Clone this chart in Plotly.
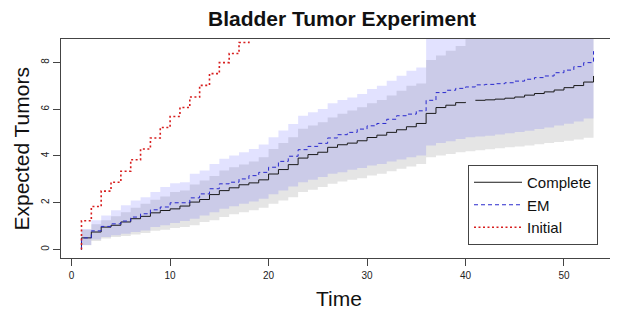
import plotly.graph_objects as go

times = list(range(1, 54))

complete = [0.50, 0.75, 0.96, 1.04, 1.18, 1.32, 1.42, 1.57, 1.67, 1.74, 1.86, 2.03, 2.14, 2.35,
            2.52, 2.64, 2.77, 2.85, 2.98, 3.23, 3.42, 3.63, 3.91, 4.06, 4.16, 4.37, 4.48, 4.55,
            4.65, 4.79, 4.89, 5.01, 5.12, 5.25, 5.39, 5.82, 6.07, 6.17, 6.28, 6.31, 6.38, 6.40,
            6.43, 6.47, 6.52, 6.60, 6.67, 6.74, 6.82, 6.92, 7.01, 7.16, 7.42]
complete_gap_after = 40

em = [0.50, 0.80, 0.99, 1.10, 1.22, 1.39, 1.53, 1.70, 1.82, 2.00, 2.00, 2.21, 2.38, 2.60,
      2.81, 2.88, 3.02, 3.16, 3.30, 3.52, 3.77, 3.99, 4.27, 4.41, 4.54, 4.77, 4.91, 5.01,
      5.15, 5.29, 5.39, 5.57, 5.72, 5.79, 5.93, 6.38, 6.71, 6.81, 6.89, 6.95, 7.04, 7.06,
      7.09, 7.13, 7.20, 7.28, 7.35, 7.42, 7.56, 7.67, 7.82, 7.99, 8.48]

initial_times = list(range(1, 19))
initial = [1.23, 1.84, 2.50, 2.88, 3.35, 3.84, 4.30, 4.77, 5.22, 5.69, 6.07, 6.52, 7.02,
           7.52, 7.99, 8.38, 8.85, 9.30]

em_upper = [0.88, 1.25, 1.46, 1.68, 1.89, 2.10, 2.24, 2.46, 2.67, 2.84, 2.88, 3.24, 3.38,
            3.66, 3.88, 4.02, 4.16, 4.30, 4.49, 4.80, 5.09, 5.37, 5.72, 5.87, 6.01, 6.25,
            6.39, 6.50, 6.65, 6.86, 7.00, 7.22, 7.43, 7.64, 7.78, 9.6, 9.8, 9.9, 10.0, 10.1,
            10.2, 10.3, 10.35, 10.4, 10.5, 10.6, 10.7, 10.8, 10.9, 11.0, 11.1, 11.2, 11.3]
em_lower = [0.20, 0.43, 0.54, 0.61, 0.68, 0.75, 0.82, 0.97, 1.04, 1.14, 1.22, 1.32, 1.46,
            1.60, 1.75, 1.85, 1.96, 2.06, 2.17, 2.36, 2.53, 2.70, 2.88, 2.98, 3.10, 3.24,
            3.31, 3.41, 3.49, 3.59, 3.66, 3.76, 3.85, 3.95, 4.02, 4.45, 4.55, 4.63, 4.73,
            4.80, 4.83, 4.87, 4.92, 4.97, 5.02, 5.08, 5.15, 5.22, 5.30, 5.38, 5.47, 5.60, 5.65]

complete_upper = [0.85, 1.08, 1.25, 1.42, 1.60, 1.79, 1.96, 2.13, 2.27, 2.46, 2.53, 2.78,
                  2.95, 3.14, 3.38, 3.52, 3.64, 3.76, 3.95, 4.30, 4.55, 4.80, 5.16, 5.30,
                  5.44, 5.65, 5.80, 5.94, 6.08, 6.25, 6.39, 6.58, 6.79, 7.00, 7.10, 8.10,
                  8.30, 8.50, 8.70, 9.3, 9.4, 9.5, 9.55, 9.6, 9.7, 9.8, 9.9, 10.0, 10.1,
                  10.2, 10.3, 10.4, 10.5]
complete_lower = [0.18, 0.37, 0.47, 0.54, 0.58, 0.64, 0.71, 0.80, 0.85, 0.92, 0.97, 1.04,
                  1.18, 1.25, 1.39, 1.51, 1.60, 1.68, 1.79, 1.96, 2.10, 2.24, 2.46, 2.56,
                  2.67, 2.81, 2.91, 2.98, 3.05, 3.17, 3.24, 3.35, 3.45, 3.55, 3.66, 3.95,
                  4.02, 4.09, 4.16, 4.20, 4.25, 4.29, 4.33, 4.37, 4.41, 4.45, 4.50, 4.55,
                  4.60, 4.65, 4.70, 4.78, 4.85]

x_ticks = [0, 10, 20, 30, 40, 50]
y_ticks = [0, 2, 4, 6, 8]

FONT = "Liberation Sans, Arial, sans-serif"

# page body has an 8px margin; the figure is sized/positioned to compensate
OFF = 8
W, H = 618 - OFF, 310 - OFF
ML, MR, MT, MB = 53, 4, 31, 52
plot_w = W - ML - MR
plot_h = H - MT - MB


def px_x(p):
    """screen pixel x -> paper coordinate"""
    return (p - OFF - ML) / plot_w


def px_y(p):
    """screen pixel y -> paper coordinate"""
    return (H - MB - (p - OFF)) / plot_h


fig = go.Figure()

# bands
fig.add_trace(go.Scatter(x=times, y=complete_lower, mode="lines", line=dict(width=0, shape="hv"),
                         showlegend=False, hoverinfo="skip"))
fig.add_trace(go.Scatter(x=times, y=complete_upper, mode="lines", line=dict(width=0, shape="hv"),
                         fill="tonexty", fillcolor="rgb(229,229,229)", showlegend=False,
                         hoverinfo="skip"))
fig.add_trace(go.Scatter(x=times, y=em_lower, mode="lines", line=dict(width=0, shape="hv"),
                         showlegend=False, hoverinfo="skip"))
fig.add_trace(go.Scatter(x=times, y=em_upper, mode="lines", line=dict(width=0, shape="hv"),
                         fill="tonexty", fillcolor="rgba(0,0,255,0.115)", showlegend=False,
                         hoverinfo="skip"))

# complete line with gap
cx = [times[0]]
cy = [0]
for t, v in zip(times, complete):
    cx.append(t)
    cy.append(v)
    if t == complete_gap_after:
        cx.append(t)
        cy.append(None)
fig.add_trace(go.Scatter(x=cx, y=cy, mode="lines", name="Complete",
                         line=dict(color="#1a1a1a", width=1, shape="hv"), connectgaps=False))
fig.add_trace(go.Scatter(x=[times[0]] + times, y=[0] + em, mode="lines", name="EM",
                         line=dict(color="rgb(40,40,205)", width=1, shape="hv", dash="4px,3px")))
fig.add_trace(go.Scatter(x=[initial_times[0]] + initial_times, y=[0] + initial, mode="lines",
                         name="Initial",
                         line=dict(color="rgb(215,30,30)", width=1.6, shape="hv", dash="2px,2.5px")))

axis_common = dict(showline=True, linecolor="#444444", linewidth=1, mirror=True,
                   ticks="outside", ticklen=7, tickcolor="#444444", showgrid=False,
                   zeroline=False, tickfont=dict(family=FONT, size=10, color="#222222"),
                   automargin=False)

fig.update_layout(
    width=W, height=H,
    margin=dict(l=ML, r=MR, t=MT, b=MB, autoexpand=False),
    paper_bgcolor="white", plot_bgcolor="white",
    font=dict(family=FONT, color="#111111"),
    title=dict(text="<b>Bladder Tumor Experiment</b>", x=(342 - OFF) / W, xanchor="center",
               y=1 - 3 / H, yanchor="top", pad=dict(t=0),
               font=dict(size=21, family=FONT, color="#111111")),
    xaxis=dict(range=[-1.08, 55.08], tickvals=x_ticks, ticktext=[str(v) for v in x_ticks],
               ticklabelstandoff=1, **axis_common),
    yaxis=dict(range=[-0.36, 9.0], tickvals=y_ticks, ticktext=[str(v) for v in y_ticks],
               tickangle=-90, **axis_common),
    legend=dict(x=px_x(468), xanchor="left", y=px_y(165), yanchor="top",
                bgcolor="white", bordercolor="#444444", borderwidth=1,
                font=dict(family=FONT, size=15, color="#111111"),
                tracegroupgap=0, itemwidth=48, traceorder="normal"),
    showlegend=True,
)

fig.add_annotation(text="Time", xref="paper", yref="paper", x=px_x(339), y=px_y(298),
                   showarrow=False, xanchor="center", yanchor="middle",
                   font=dict(size=21, family=FONT))
fig.add_annotation(text="Expected Tumors", xref="paper", yref="paper", x=px_x(OFF),
                   y=px_y(149), showarrow=False, textangle=-90, xanchor="left",
                   yanchor="middle", borderpad=0,
                   font=dict(size=21, family=FONT))

fig.write_html("out.html")
